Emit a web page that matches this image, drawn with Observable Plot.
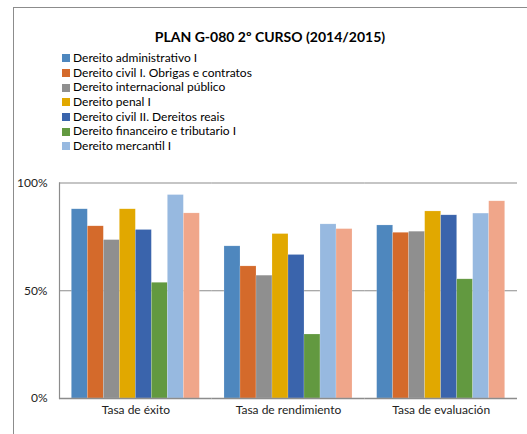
<!DOCTYPE html>
<html>
<head>
<meta charset="utf-8">
<script src="https://cdn.jsdelivr.net/npm/d3@7"></script>
<script src="https://cdn.jsdelivr.net/npm/@observablehq/plot@0.6"></script>
<style>
  body { margin: 0; background: #fff; font-family: Lato, "Open Sans", sans-serif; }
  #wrap { position: relative; width: 527px; height: 434px; overflow: hidden; background: #fff; }
  #frame { position: absolute; left: 13px; top: 7px; width: 600px; height: 600px; border-left: 1px solid #8c8c8c; border-top: 1px solid #8c8c8c; box-sizing: border-box; }
  #title { position: absolute; left: 0; width: 540px; top: 28px; text-align: center; font-weight: bold; font-size: 14px; color: #000; }
  #legend { position: absolute; left: 62px; top: 51px; font-size: 12px; color: #000; }
  .li { height: 14.7px; line-height: 14.7px; display: flex; align-items: center; white-space: nowrap; }
  .sw { width: 8px; height: 8px; margin-right: 3px; display: inline-block; }
  #chart { position: absolute; left: 0; top: 170px; }
</style>
</head>
<body>
<div id="wrap">
  <div id="frame"></div>
  <div id="title"></div>
  <div id="legend"></div>
  <div id="chart"></div>
</div>
<script>
const title = "PLAN G-080 2º CURSO (2014/2015)";
const categories = ["Tasa de éxito", "Tasa de rendimiento", "Tasa de evaluación"];
const series = [
  "Dereito administrativo I",
  "Dereito civil I. Obrigas e contratos",
  "Dereito internacional público",
  "Dereito penal I",
  "Dereito civil II. Dereitos reais",
  "Dereito financeiro e tributario I",
  "Dereito mercantil I",
  "Serie 8"
];
const legendShown = 7; // the reference legend lists only the first seven series
const colors = ["#4E87BE", "#D46A2B", "#8F8F8F", "#E1A800", "#3A64AC", "#629940", "#97B9E0", "#F0A68A"];
// values per series, in the order of categories
const values = [
  [0.878, 0.706, 0.803],
  [0.799, 0.613, 0.769],
  [0.735, 0.570, 0.774],
  [0.878, 0.763, 0.868],
  [0.782, 0.666, 0.850],
  [0.537, 0.297, 0.553],
  [0.944, 0.808, 0.858],
  [0.859, 0.786, 0.915]
];
const yTicks = [0, 0.5, 1];

const data = [];
series.forEach((s, i) => categories.forEach((c, j) => data.push({serie: s, cat: c, value: values[i][j]})));

document.getElementById("title").textContent = title;
const lg = document.getElementById("legend");
series.slice(0, legendShown).forEach((s, i) => {
  const d = document.createElement("div");
  d.className = "li";
  d.innerHTML = `<span class="sw" style="background:${colors[i]}"></span><span></span>`;
  d.lastChild.textContent = s;
  lg.appendChild(d);
});

const chart = Plot.plot({
  width: 527,
  height: 258,
  marginTop: 12.5,
  marginBottom: 30,
  marginLeft: 59,
  marginRight: 10,
  style: {fontFamily: "Lato, 'Open Sans', sans-serif", fontSize: "12px", color: "#222", background: "transparent"},
  fx: {domain: categories, padding: 0, round: false, label: null, axis: "bottom", tickSize: 0, tickPadding: 7},
  x: {domain: series, padding: 0, paddingInner: 0, paddingOuter: 0.77, round: false, axis: null},
  y: {domain: [0, 1], ticks: yTicks, tickFormat: d => Math.round(d * 100) + "%", label: null, tickSize: 0, tickPadding: 12},
  color: {domain: series, range: colors},
  marks: [
    Plot.ruleY(yTicks.slice(1), {stroke: "#8c8c8c", strokeWidth: 1.2}),
    Plot.barY(data, {fx: "cat", x: "serie", y: "value", fill: "serie", inset: 0, stroke: "#ffffff", strokeOpacity: 0.35, strokeWidth: 0.5}),
    Plot.ruleY([0], {stroke: "#8c8c8c", strokeWidth: 1.5}),
    Plot.frame({anchor: "left", facetAnchor: "left", stroke: "#8c8c8c", strokeWidth: 1.2})
  ]
});
document.getElementById("chart").appendChild(chart);
</script>
</body>
</html>
